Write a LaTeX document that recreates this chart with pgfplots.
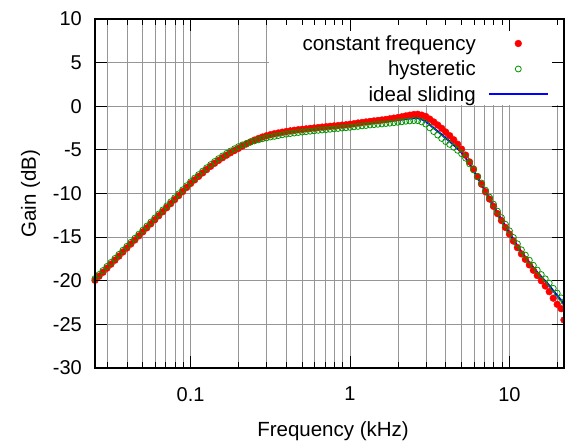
\documentclass[border=0pt]{standalone}
\usepackage{fontspec}
\setmainfont{Liberation Sans}
\usepackage{pgfplots}
\usepackage{pgfplotstable}
\pgfplotsset{compat=1.18}
\definecolor{gridgray}{RGB}{150,150,150}
\definecolor{hygreen}{RGB}{0,150,0}

% f (kHz), constant frequency, hysteretic, ideal sliding (dB)
\pgfplotstableread{
f       cf      hy      id
0.02512 -19.95  -19.75  -19.80
0.02661 -19.49  -19.29  -19.34
0.02818 -19.03  -18.83  -18.88
0.02985 -18.56  -18.36  -18.41
0.03162 -18.10  -17.90  -17.95
0.03350 -17.64  -17.44  -17.49
0.03548 -17.18  -16.98  -17.03
0.03758 -16.71  -16.51  -16.56
0.03981 -16.25  -16.05  -16.10
0.04217 -15.79  -15.59  -15.64
0.04467 -15.33  -15.13  -15.18
0.04732 -14.86  -14.66  -14.71
0.05012 -14.40  -14.20  -14.25
0.05309 -13.94  -13.74  -13.79
0.05623 -13.48  -13.28  -13.33
0.05957 -13.01  -12.81  -12.86
0.06310 -12.55  -12.35  -12.40
0.06683 -12.09  -11.89  -11.94
0.07079 -11.63  -11.43  -11.48
0.07499 -11.16  -10.96  -11.01
0.07943 -10.70  -10.50  -10.55
0.08414 -10.24  -10.04  -10.09
0.08913 -9.78   -9.58   -9.63
0.09441 -9.31   -9.11   -9.16
0.1000  -8.85   -8.65   -8.70
0.1059  -8.44   -8.24   -8.29
0.1122  -8.04   -7.84   -7.89
0.1189  -7.64   -7.44   -7.49
0.1259  -7.26   -7.06   -7.11
0.1334  -6.89   -6.69   -6.74
0.1413  -6.54   -6.34   -6.39
0.1496  -6.21   -6.01   -6.06
0.1585  -5.90   -5.70   -5.75
0.1679  -5.61   -5.41   -5.46
0.1778  -5.33   -5.13   -5.18
0.1884  -5.07   -4.87   -4.92
0.1995  -4.83   -4.63   -4.68
0.2113  -4.56   -4.43   -4.46
0.2239  -4.32   -4.26   -4.26
0.2371  -4.09   -4.11   -4.07
0.2512  -3.88   -3.97   -3.90
0.2661  -3.70   -3.85   -3.75
0.2818  -3.53   -3.73   -3.61
0.2985  -3.39   -3.63   -3.49
0.3162  -3.26   -3.53   -3.38
0.3350  -3.15   -3.45   -3.28
0.3548  -3.06   -3.36   -3.19
0.3758  -2.97   -3.27   -3.10
0.3981  -2.89   -3.20   -3.02
0.4217  -2.82   -3.13   -2.95
0.4467  -2.75   -3.07   -2.89
0.4732  -2.69   -3.01   -2.83
0.5012  -2.64   -2.96   -2.78
0.5309  -2.59   -2.91   -2.73
0.5623  -2.54   -2.86   -2.68
0.5957  -2.49   -2.81   -2.63
0.6310  -2.44   -2.76   -2.58
0.6683  -2.39   -2.72   -2.54
0.7079  -2.34   -2.68   -2.49
0.7499  -2.30   -2.64   -2.45
0.7943  -2.25   -2.59   -2.40
0.8414  -2.21   -2.55   -2.36
0.8913  -2.16   -2.50   -2.31
0.9441  -2.12   -2.46   -2.27
1.000   -2.06   -2.42   -2.22
1.059   -2.00   -2.36   -2.16
1.122   -1.92   -2.31   -2.10
1.189   -1.86   -2.25   -2.04
1.259   -1.80   -2.21   -1.99
1.334   -1.74   -2.15   -1.93
1.413   -1.68   -2.11   -1.88
1.496   -1.63   -2.07   -1.84
1.585   -1.57   -2.03   -1.79
1.679   -1.51   -1.98   -1.74
1.778   -1.44   -1.94   -1.69
1.884   -1.36   -1.89   -1.63
1.995   -1.30   -1.84   -1.58
2.113   -1.21   -1.78   -1.52
2.239   -1.11   -1.72   -1.46
2.371   -1.02   -1.68   -1.41
2.512   -0.95   -1.64   -1.37
2.661   -0.92   -1.65   -1.37
2.818   -1.02   -1.80   -1.50
2.985   -1.17   -2.04   -1.72
3.162   -1.47   -2.47   -2.12
3.350   -1.80   -2.90   -2.50
3.548   -2.15   -3.30   -2.87
3.758   -2.53   -3.69   -3.25
3.981   -2.95   -4.05   -3.65
4.217   -3.37   -4.37   -4.02
4.467   -3.84   -4.70   -4.42
4.732   -4.35   -5.05   -4.85
5.012   -4.92   -5.44   -5.32
5.309   -5.60   -5.95   -5.90
5.623   -6.38   -6.60   -6.60
5.957   -7.20   -7.30   -7.35
6.310   -8.07   -8.05   -8.15
6.683   -8.93   -8.80   -8.95
7.079   -9.80   -9.62   -9.80
7.499   -10.64  -10.42  -10.62
7.943   -11.47  -11.22  -11.42
8.414   -12.30  -12.02  -12.22
8.913   -13.10  -12.77  -12.98
9.441   -13.89  -13.53  -13.75
10.00   -14.65  -14.27  -14.50
10.59   -15.45  -15.04  -15.27
11.22   -16.20  -15.77  -16.00
11.89   -16.92  -16.46  -16.70
12.59   -17.55  -17.06  -17.30
13.34   -18.18  -17.65  -17.90
14.13   -18.80  -18.23  -18.48
14.96   -19.40  -18.78  -19.03
15.85   -20.00  -19.29  -19.55
16.79   -20.60  -19.78  -20.05
17.78   -21.25  -20.27  -20.55
18.84   -22.00  -20.87  -21.15
19.95   -22.70  -21.42  -21.70
21.13   -23.20  -21.96  -22.25
22.00   -24.50  -22.40  -22.70
}\gaindata

\begin{document}
\begin{tikzpicture}
\useasboundingbox (0,0) rectangle (565bp,443bp);
\begin{axis}[
  at={(95bp,75bp)}, anchor=south west,
  scale only axis, width=469bp, height=349bp,
  xmode=log, xmin=0.02512, xmax=22, ymin=-30, ymax=10,
  xtick={0.1,1,10}, xticklabels={0.1,1,10},
  minor xtick={0.03,0.04,0.05,0.06,0.07,0.08,0.09,0.2,0.3,0.4,0.5,0.6,0.7,0.8,0.9,2,3,4,5,6,7,8,9,20},
  ytick={-30,-25,...,10}, yticklabels={-30,-25,-20,-15,-10,-5,0,5,10},
  grid=both,
  major grid style={gridgray, line width=1bp},
  minor grid style={gridgray, line width=1bp},
  axis line style={draw=none},
  major tick length=0pt, minor tick length=0pt,
  tick label style={font=\fontsize{20bp}{24bp}\selectfont, inner sep=0pt},
  xticklabel style={anchor=north, yshift=-19bp},
  yticklabel style={anchor=east, xshift=-13bp},
  label style={font=\fontsize{20.5bp}{24bp}\selectfont},
  xlabel={Frequency (kHz)}, ylabel={Gain (dB)},
  xlabel style={at={(axis description cs:0.5075,-0.182)}, anchor=center},
  ylabel style={at={(axis description cs:-0.1375,0.5)}, anchor=center},
  legend style={at={(axis description cs:0.968,0.9585)}, anchor=north east,
    draw=none, fill=none, inner sep=0pt, row sep=5.9bp, column sep=12bp,
    nodes={inner sep=0pt, text height=16.5bp, text depth=3.1bp},
    font=\fontsize{20.5bp}{24bp}\selectfont},
  legend cell align=right, legend plot pos=right,
  legend image code/.code={\draw[mark repeat=2,mark phase=2,#1] plot coordinates {(0bp,0bp) (29.5bp,0bp) (59bp,0bp)};},
]
\fill[white] (axis cs:0.31,0.15) rectangle (axis cs:22,10);
\addplot[only marks, mark=*, mark size=3.4bp, color=red] table[x=f, y=cf] {\gaindata};
\addlegendentry{constant frequency}
\addplot[only marks, mark=o, mark size=3bp, color=hygreen, mark options={line width=0.8bp}] table[x=f, y=hy] {\gaindata};
\addlegendentry{hysteretic}
\addplot[blue, line width=2bp, no marks] table[x=f, y=id] {\gaindata};
\addlegendentry{ideal sliding}
\end{axis}
% border and ticks drawn over the grid and the legend box
\begin{axis}[
  at={(95bp,75bp)}, anchor=south west,
  scale only axis, width=469bp, height=349bp,
  xmode=log, xmin=0.02512, xmax=22, ymin=-30, ymax=10,
  xtick={0.1,1,10},
  minor xtick={0.03,0.04,0.05,0.06,0.07,0.08,0.09,0.2,0.3,0.4,0.5,0.6,0.7,0.8,0.9,2,3,4,5,6,7,8,9,20},
  ytick={-30,-25,...,10},
  xticklabels={}, yticklabels={},
  tick label style={opacity=0},
  tick align=inside, major tick length=12bp, minor tick length=6bp,
  tick style={black, line width=1bp},
  axis line style={black, line width=1.2bp},
]
\end{axis}
\end{tikzpicture}
\end{document}
